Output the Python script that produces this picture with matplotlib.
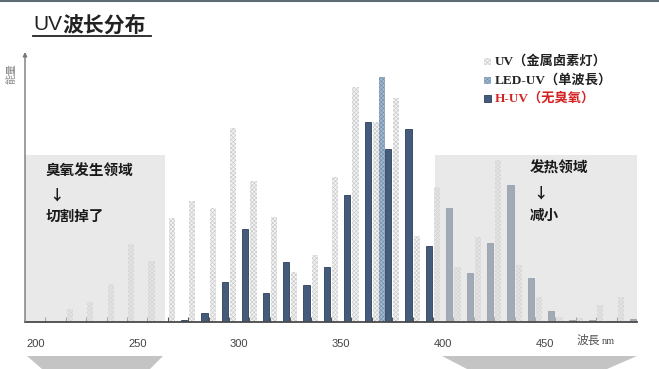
import matplotlib
matplotlib.use('Agg')
import matplotlib.pyplot as plt
from matplotlib.patches import Rectangle, Polygon
from matplotlib.lines import Line2D
import numpy as np

plt.rcParams['font.family'] = ['Noto Sans CJK SC', 'DejaVu Sans']
plt.rcParams['hatch.linewidth'] = 0.45

# ---------------- data ----------------
wavelengths = [200, 210, 220, 230, 240, 250, 260, 270, 280, 290,
               300, 310, 320, 330, 340, 350, 360, 370, 380, 390,
               400, 410, 420, 430, 440, 450, 460, 470, 480, 490]
uv_metal_halide = [0, 0, 5.3, 8.2, 15.5, 31.8, 24.9, 42.4, 49.4, 46.5,
                   79.2, 57.6, 42.9, 20.4, 27.3, 59.2, 95.9, 81.6, 91.4, 35.1,
                   55.1, 22.4, 34.7, 66.1, 23.3, 10.2, 2.0, 1.6, 6.9, 10.2]
led_uv = [0, 0, 0, 0, 0, 0, 0, 0, 0, 0,
          0, 0, 0, 0, 0, 0, 0, 100, 0, 0,
          0, 0, 0, 0, 0, 0, 0, 0, 0, 0]
h_uv = [0, 0, 0, 0, 0, 0, 0, 0.8, 3.7, 16.3,
        38.0, 11.8, 24.5, 15.1, 22.4, 51.8, 81.6, 70.6, 78.8, 31.0,
        46.5, 20.0, 32.2, 55.9, 18.0, 4.5, 0.8, 0.8, 0.5, 1.2]
tick_labels = ['200', '250', '300', '350', '400', '450']
tick_values = [200, 250, 300, 350, 400, 450]
legend_labels = ['UV（金属卤素灯）', 'LED-UV（单波長）', 'H-UV（无臭氧）']

# ---------------- figure ----------------
W, H = 659, 369
fig = plt.figure(figsize=(W / 100, H / 100), dpi=100)
fig.patch.set_facecolor('white')


def fx(px):
    return px / W


def fy(py):
    return 1 - py / H


ax = fig.add_axes([fx(25), fy(322), fx(637) - fx(25), fy(52) - fy(322)])
ax.set_facecolor('none')
x = np.arange(len(wavelengths))
bw = 0.3

c_uv = dict(color='#f3f3f3', hatch='xxxxxxxx', edgecolor='#c9c9c9', linewidth=0)
c_led = dict(color='#a3b8ce', hatch='xxxxxxxx', edgecolor='#7490b0', linewidth=0)
c_h = dict(color='#445b7c', edgecolor='#2d405a', linewidth=0.6)

ax.bar(x - bw, uv_metal_halide, bw, zorder=2, **c_uv)
ax.bar(x, led_uv, bw, zorder=2, **c_led)
ax.bar(x + bw, h_uv, bw, zorder=2, **c_h)

ax.set_xlim(-0.5, len(wavelengths) - 0.5)
ax.set_ylim(0, 110.2)

# shaded regions (drawn over the bars)
box_top = 68.2
ax.add_patch(Rectangle((-0.5, 0), 6.86, box_top, facecolor='#dcdcdc',
                       alpha=0.62, edgecolor='none', zorder=3))
ax.add_patch(Rectangle((19.6, 0), 29.5 - 19.6, box_top, facecolor='#dcdcdc',
                       alpha=0.62, edgecolor='none', zorder=3))

# axes styling
for s in ['top', 'right', 'left']:
    ax.spines[s].set_visible(False)
ax.spines['bottom'].set_color('#4a4a4a')
ax.spines['bottom'].set_linewidth(1.3)
ax.spines['bottom'].set_zorder(4)
ax.set_yticks([])
major_pos = [wavelengths.index(v) for v in tick_values]
ax.set_xticks(major_pos)
ax.set_xticklabels(tick_labels, fontsize=8, color='#444444',
                   family=['Liberation Sans', 'DejaVu Sans'])
ax.tick_params(axis='x', which='major', length=0, pad=12)
ax.set_xticks(x[:-1] + 0.5, minor=True)
ax.tick_params(axis='x', which='minor', direction='in', length=3.5,
               width=0.8, color='#555555')

# y axis with arrow
ax.annotate('', xy=(0, 1), xytext=(0, 0), xycoords='axes fraction',
            arrowprops=dict(arrowstyle='-|>', color='#777777', lw=1.0,
                            mutation_scale=6, shrinkA=0, shrinkB=0),
            zorder=5)

fig.text(fx(11), fy(74), '能量', rotation=90, fontsize=7.5, color='#888888',
         ha='center', va='center')

# title
fig.text(fx(33), fy(25), 'UV', fontsize=15, color='#222222', va='center',
         family=['Liberation Sans', 'DejaVu Sans'])
fig.text(fx(62), fy(25), '波长分布', fontsize=15, fontweight='bold',
         color='#222222', va='center')
fig.add_artist(Line2D([fx(33), fx(151)], [fy(35.5), fy(35.5)], color='#222222',
                      lw=1.3, transform=fig.transFigure))

# top border line
fig.add_artist(Line2D([0, 1], [fy(0.6), fy(0.6)], color='#5c6d75', lw=1.5,
                      transform=fig.transFigure))

# legend (manual)
leg_rows = [61.5, 80, 98.5]
leg_styles = [c_uv, c_led, c_h]
leg_colors = ['#222222', '#222222', '#d42222']
for yy, st, lab, tc in zip(leg_rows, leg_styles, legend_labels, leg_colors):
    st2 = dict(st)
    fc = st2.pop('color')
    fig.add_artist(Rectangle((fx(484), fy(yy + 3.5)), fx(7) - fx(0),
                             fy(0) - fy(7), facecolor=fc,
                             transform=fig.transFigure, **st2))
    fig.text(fx(495), fy(yy), lab, fontsize=9.5, fontweight='bold', color=tc,
             va='center', family=['Liberation Serif', 'Noto Sans CJK SC'])

# region annotations
box_font = dict(fontsize=10.5, fontweight='bold', color='#1a1a1a', va='center',
                family=['Noto Sans CJK SC', 'DejaVu Sans'])
fig.text(fx(46), fy(171), '臭氧发生领域', **box_font)
fig.text(fx(49), fy(195), '↓', **box_font)
fig.text(fx(46), fy(216), '切割掉了', **box_font)
fig.text(fx(530), fy(168), '发热领域', **box_font)
fig.text(fx(533), fy(193), '↓', **box_font)
fig.text(fx(530), fy(215), '减小', **box_font)

# x axis label
fig.text(fx(577), fy(340), '波長', fontsize=8.5, color='#555555', va='center')
fig.text(fx(602), fy(341), 'nm', fontsize=7.5, color='#555555', va='center',
         family=['Liberation Serif', 'DejaVu Serif'])

# bottom arrow shapes
for pts in ([(27, 356), (163, 356), (150, 369), (42, 369)],
            [(442, 356), (637, 356), (607, 369), (467, 369)]):
    fig.add_artist(Polygon([(fx(a), fy(b)) for a, b in pts], closed=True,
                           facecolor='#c4c4c4', edgecolor='none',
                           transform=fig.transFigure))

fig.savefig('out.png', dpi=100)
